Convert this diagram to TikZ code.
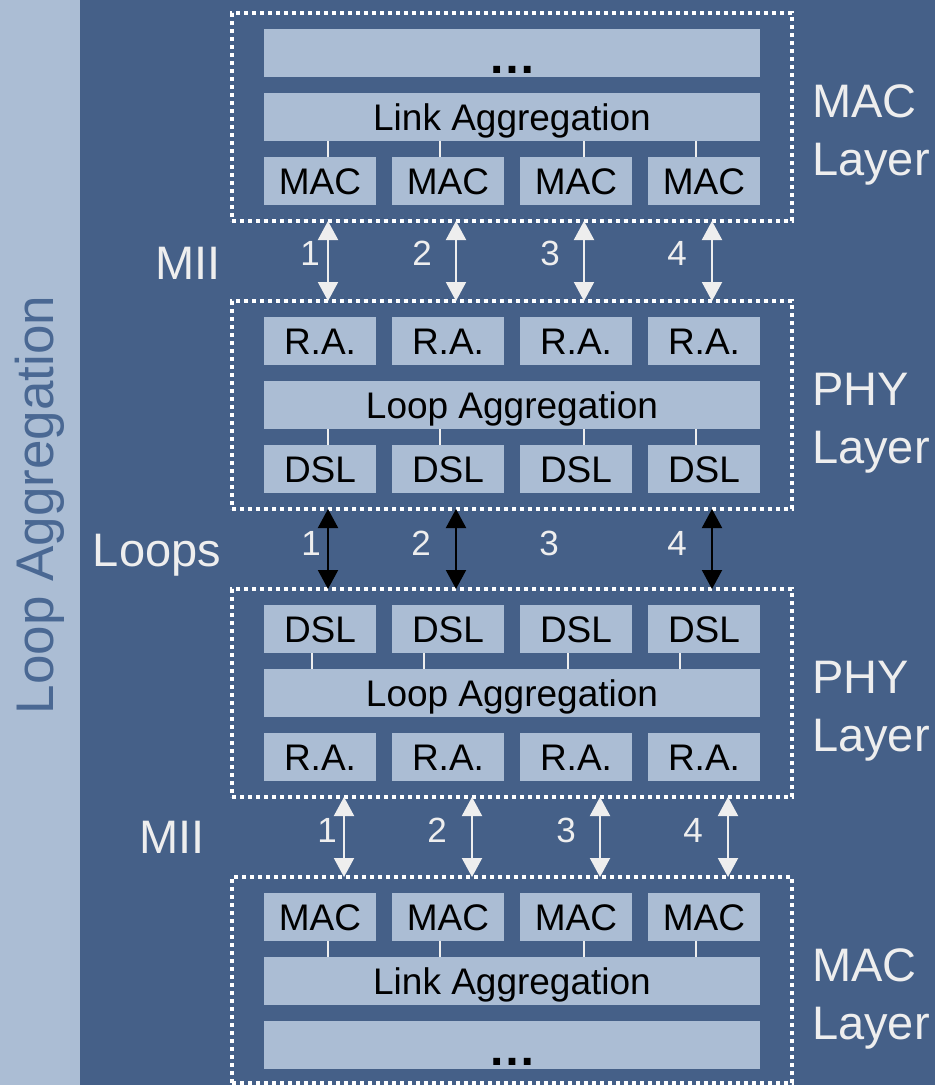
\documentclass[tikz,border=0pt]{standalone}
\usepackage{fontspec}
\setmainfont{Liberation Sans}
\usetikzlibrary{arrows.meta,calc}
\definecolor{bgdark}{HTML}{456088}
\definecolor{bglight}{HTML}{ABBDD4}
\definecolor{vtext}{HTML}{4A6893}
\definecolor{linec}{HTML}{EEEEEE}
\begin{document}
\begin{tikzpicture}[x=1pt,y=-1pt,
  lbox/.style={fill=bglight, inner sep=0pt, outer sep=0pt, minimum height=48pt, text height=26.5pt, text depth=0pt, font=\fontsize{37}{37}\selectfont, text=black},
  sbox/.style={lbox, minimum width=112pt},
  wbox/.style={lbox, minimum width=496pt},
  dotsbox/.style={wbox, text height=44pt, text depth=4pt, font=\fontsize{48}{48}\selectfont\bfseries},
  dotbox/.style={draw=white, line width=4pt, dash pattern=on 4pt off 4pt, minimum width=560pt, inner sep=0pt, outer sep=0pt},
  conn/.style={draw=linec, line width=2pt},
  arr/.style={draw=linec, line width=2pt, {Triangle[width=20pt,length=19pt]}-{Triangle[width=20pt,length=19pt]}},
  blk/.style={arr, draw=black},
  num/.style={text=linec, font=\fontsize{35}{35}\selectfont, inner sep=0pt},
  side/.style={text=linec, font=\fontsize{47}{47}\selectfont, inner sep=0pt, text height=34pt, text depth=0pt},
]
\useasboundingbox (0,0) rectangle (935,1085);
\fill[bglight] (0,0) rectangle (80,1085);
\fill[bgdark] (80,0) rectangle (935,1085);

% vertical label
\node[rotate=90, anchor=base, text=vtext, font=\fontsize{53}{53}\selectfont, inner sep=0pt] (vl) at (53,505) {Loop Aggregation};

% ---- Box 1: MAC layer (top)
\node[dotbox, minimum height=208pt] (B1) at (512,117) {};
\node[dotsbox] (t1) at (512,53) {…};
\node[wbox] (la1) at (512,117) {Link Aggregation};
\node[sbox] (a1) at (320,181) {MAC};
\node[sbox] (a2) at (448,181) {MAC};
\node[sbox] (a3) at (576,181) {MAC};
\node[sbox] (a4) at (704,181) {MAC};
\draw[conn] ([xshift=8pt]a1.north) -- ([xshift=8pt]a1.north |- la1.south);
\draw[conn] ([xshift=-8pt]a2.north) -- ([xshift=-8pt]a2.north |- la1.south);
\draw[conn] ([xshift=8pt]a3.north) -- ([xshift=8pt]a3.north |- la1.south);
\draw[conn] ([xshift=-8pt]a4.north) -- ([xshift=-8pt]a4.north |- la1.south);

% ---- Box 2: PHY layer
\node[dotbox, minimum height=208pt] (B2) at (512,405) {};
\node[sbox] (b1) at (320,341) {R.A.};
\node[sbox] (b2) at (448,341) {R.A.};
\node[sbox] (b3) at (576,341) {R.A.};
\node[sbox] (b4) at (704,341) {R.A.};
\node[wbox] (lp2) at (512,405) {Loop Aggregation};
\node[sbox] (c1) at (320,469) {DSL};
\node[sbox] (c2) at (448,469) {DSL};
\node[sbox] (c3) at (576,469) {DSL};
\node[sbox] (c4) at (704,469) {DSL};
\draw[conn] ([xshift=8pt]c1.north) -- ([xshift=8pt]c1.north |- lp2.south);
\draw[conn] ([xshift=-8pt]c2.north) -- ([xshift=-8pt]c2.north |- lp2.south);
\draw[conn] ([xshift=8pt]c3.north) -- ([xshift=8pt]c3.north |- lp2.south);
\draw[conn] ([xshift=-8pt]c4.north) -- ([xshift=-8pt]c4.north |- lp2.south);

% ---- Box 3: PHY layer
\node[dotbox, minimum height=208pt] (B3) at (512,693) {};
\node[sbox] (d1) at (320,629) {DSL};
\node[sbox] (d2) at (448,629) {DSL};
\node[sbox] (d3) at (576,629) {DSL};
\node[sbox] (d4) at (704,629) {DSL};
\node[wbox] (lp3) at (512,693) {Loop Aggregation};
\node[sbox] (e1) at (320,757) {R.A.};
\node[sbox] (e2) at (448,757) {R.A.};
\node[sbox] (e3) at (576,757) {R.A.};
\node[sbox] (e4) at (704,757) {R.A.};
\draw[conn] ([xshift=-8pt]d1.south) -- ([xshift=-8pt]d1.south |- lp3.north);
\draw[conn] ([xshift=-24pt]d2.south) -- ([xshift=-24pt]d2.south |- lp3.north);
\draw[conn] ([xshift=-8pt]d3.south) -- ([xshift=-8pt]d3.south |- lp3.north);
\draw[conn] ([xshift=-24pt]d4.south) -- ([xshift=-24pt]d4.south |- lp3.north);

% ---- Box 4: MAC layer (bottom)
\node[dotbox, minimum height=206pt] (B4) at (512,980) {};
\node[sbox] (f1) at (320,917) {MAC};
\node[sbox] (f2) at (448,917) {MAC};
\node[sbox] (f3) at (576,917) {MAC};
\node[sbox] (f4) at (704,917) {MAC};
\node[wbox] (la4) at (512,981) {Link Aggregation};
\node[dotsbox] (t4) at (512,1045) {…};
\draw[conn] ([xshift=8pt]f1.south) -- ([xshift=8pt]f1.south |- la4.north);
\draw[conn] ([xshift=-8pt]f2.south) -- ([xshift=-8pt]f2.south |- la4.north);
\draw[conn] ([xshift=8pt]f3.south) -- ([xshift=8pt]f3.south |- la4.north);
\draw[conn] ([xshift=-8pt]f4.south) -- ([xshift=-8pt]f4.south |- la4.north);

% ---- arrows: MII (top)
\draw[arr] ([xshift=-184pt]B1.south) -- ([xshift=-184pt]B2.north);
\draw[arr] ([xshift=-56pt]B1.south) -- ([xshift=-56pt]B2.north);
\draw[arr] ([xshift=72pt]B1.south) -- ([xshift=72pt]B2.north);
\draw[arr] ([xshift=200pt]B1.south) -- ([xshift=200pt]B2.north);
% ---- arrows: loops
\draw[blk] ([xshift=-184pt]B2.south) -- ([xshift=-184pt]B3.north);
\draw[blk] ([xshift=-56pt]B2.south) -- ([xshift=-56pt]B3.north);
\draw[blk] ([xshift=200pt]B2.south) -- ([xshift=200pt]B3.north);
% ---- arrows: MII (bottom)
\draw[arr] ([xshift=-168pt]B3.south) -- ([xshift=-168pt]B4.north);
\draw[arr] ([xshift=-40pt]B3.south) -- ([xshift=-40pt]B4.north);
\draw[arr] ([xshift=88pt]B3.south) -- ([xshift=88pt]B4.north);
\draw[arr] ([xshift=216pt]B3.south) -- ([xshift=216pt]B4.north);

% ---- numbers
\node[num] (n11) at (310,253) {1};
\node[num] (n12) at (422,253) {2};
\node[num] (n13) at (550,253) {3};
\node[num] (n14) at (677,253) {4};
\node[num] (n21) at (311,543) {1};
\node[num] (n22) at (421,543) {2};
\node[num] (n23) at (549,543) {3};
\node[num] (n24) at (677,543) {4};
\node[num] (n31) at (327,830) {1};
\node[num] (n32) at (437,830) {2};
\node[num] (n33) at (566,830) {3};
\node[num] (n34) at (693,830) {4};

% ---- left labels
\node[side] (mii1) at (188,262) {MII};
\node[side] (loops) at (157,549) {Loops};
\node[side] (mii2) at (172,836) {MII};

% ---- right labels
\node[side, anchor=base west] (r1a) at (812,117) {MAC};
\node[side, anchor=base west] (r1b) at (812,175) {Layer};
\node[side, anchor=base west] (r2a) at (812,405) {PHY};
\node[side, anchor=base west] (r2b) at (812,463) {Layer};
\node[side, anchor=base west] (r3a) at (812,693) {PHY};
\node[side, anchor=base west] (r3b) at (812,751) {Layer};
\node[side, anchor=base west] (r4a) at (812,981) {MAC};
\node[side, anchor=base west] (r4b) at (812,1039) {Layer};
\end{tikzpicture}
\end{document}
